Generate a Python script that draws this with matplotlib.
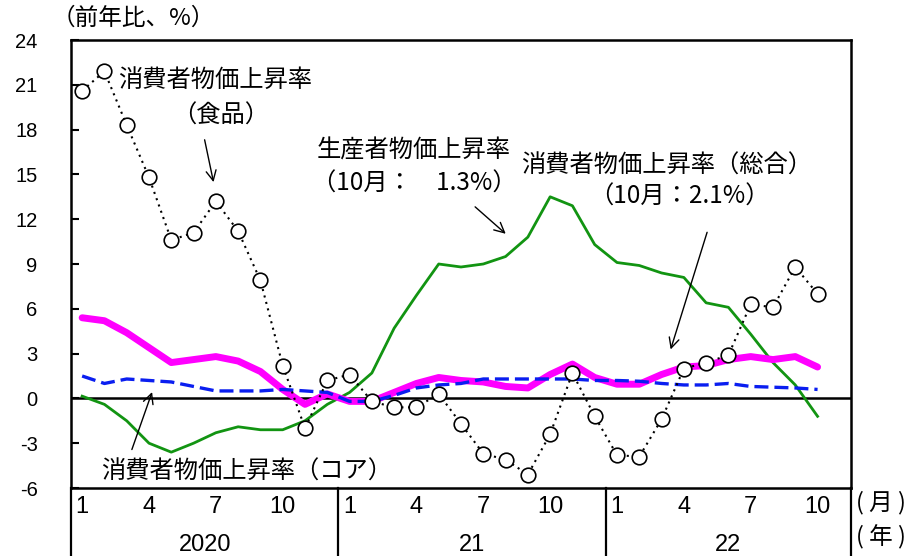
import matplotlib
matplotlib.use("Agg")
import matplotlib.pyplot as plt
import numpy as np

plt.rcParams['font.family'] = ['Noto Sans CJK JP', 'DejaVu Sans']

JP = ['Noto Sans CJK JP', 'DejaVu Sans']
NUM = ['Liberation Sans', 'DejaVu Sans']
NARROW = ['Liberation Sans Narrow', 'Liberation Sans', 'DejaVu Sans']

# monthly, 2020/1 .. 2022/10 (前年比, %)
cpi_food = [20.6, 21.9, 18.3, 14.8, 10.6, 11.1, 13.2, 11.2, 7.9, 2.2, -2.0, 1.2,
            1.6, -0.2, -0.6, -0.6, 0.3, -1.7, -3.7, -4.1, -5.1, -2.4, 1.7, -1.2,
            -3.8, -3.9, -1.4, 2.0, 2.4, 2.9, 6.3, 6.1, 8.8, 7.0]
ppi = [0.15, -0.4, -1.5, -3.0, -3.6, -3.0, -2.3, -1.9, -2.1, -2.1, -1.5, -0.4,
       0.4, 1.7, 4.7, 6.9, 9.0, 8.8, 9.0, 9.5, 10.8, 13.5, 12.9, 10.3,
       9.1, 8.9, 8.4, 8.1, 6.4, 6.1, 4.3, 2.4, 0.9, -1.2]
cpi_all = [5.4, 5.2, 4.4, 3.4, 2.4, 2.6, 2.8, 2.5, 1.8, 0.6, -0.4, 0.3,
           -0.2, -0.2, 0.4, 1.0, 1.4, 1.2, 1.1, 0.8, 0.7, 1.6, 2.3, 1.4,
           0.95, 0.95, 1.6, 2.1, 2.2, 2.6, 2.8, 2.6, 2.8, 2.1]
cpi_core = [1.5, 1.0, 1.3, 1.2, 1.1, 0.8, 0.5, 0.5, 0.5, 0.6, 0.5, 0.4,
            -0.2, -0.2, 0.2, 0.7, 0.9, 1.0, 1.3, 1.3, 1.3, 1.3, 1.3, 1.2,
            1.2, 1.15, 1.0, 0.9, 0.9, 1.0, 0.8, 0.75, 0.7, 0.6]

month_ticks = ['1', '4', '7', '10']
years = ['2020', '21', '22']
yticks = [-6, -3, 0, 3, 6, 9, 12, 15, 18, 21, 24]

x = np.arange(len(cpi_food))

fig = plt.figure(figsize=(9.09, 5.56), dpi=100)
ax = fig.add_axes([71 / 909, 68 / 556, 780 / 909, 448 / 556])

ax.axhline(0, color='black', lw=1.8, zorder=2)
ax.plot(x, ppi, color='#129412', lw=2.0, zorder=3)
ax.plot(x, cpi_all, color='#ff00ff', lw=5.0, solid_capstyle='round', zorder=4)
ax.plot(x, cpi_core, color='#0a1ef0', lw=2.4, dashes=(4.2, 1.8), zorder=5)
ax.plot(x, cpi_food, color='black', lw=1.5, ls=(0, (1, 2.2)), marker='o',
        markersize=10.5, markerfacecolor='white', markeredgecolor='black',
        markeredgewidth=1.2, zorder=6)

ax.set_xlim(-0.5, 34.5)
ax.set_ylim(-6, 24)
ax.set_yticks(yticks)
ax.set_yticklabels([str(t) for t in yticks], fontfamily=NUM, fontsize=14.5)
ax.tick_params(axis='y', direction='in', length=6, width=1.5, pad=24)
ax.set_xticks([])
for s in ax.spines.values():
    s.set_linewidth(1.8)

# bottom table: separators, month and year labels
tr = ax.get_xaxis_transform()
for xs in [-0.5, 11.5, 23.5, 34.5]:
    ax.plot([xs, xs], [0, -0.16], transform=tr, color='black', lw=1.6,
            clip_on=False)
for yi, year in enumerate(years):
    for mi, m in enumerate(month_ticks):
        ax.text(yi * 12 + mi * 3, -0.043, m, transform=tr, ha='center',
                va='center', fontsize=17, fontfamily=NARROW)
    x0 = yi * 12 - 0.5
    x1 = min(x0 + 12, 34.5)
    ax.text((x0 + x1) / 2, -0.128, year, transform=tr, ha='center',
            va='center', fontsize=17, fontfamily=NARROW)

fig.text(906 / 909, 1 - 503 / 556, '( 月 )', ha='right', va='center',
         fontsize=17, fontfamily=JP)
fig.text(906 / 909, 1 - 537 / 556, '( 年 )', ha='right', va='center',
         fontsize=17, fontfamily=JP)
fig.text(52 / 909, 1 - 18 / 556, '（前年比、%）', ha='left', va='center',
         fontsize=17, fontfamily=JP)

# annotations
akw = dict(arrowstyle='->', color='black', lw=1.0, mutation_scale=18)
ax.text(1.6, 21.3, '消費者物価上昇率', ha='left', va='center', fontsize=17.5)
ax.text(6.2, 18.9, '（食品）', ha='center', va='center', fontsize=17.5)
ax.annotate('', xy=(5.92, 14.3), xytext=(5.47, 17.5), arrowprops=akw)

ax.text(10.5, 16.6, '生産者物価上昇率', ha='left', va='center', fontsize=17.5)
ax.text(10.3, 14.4, '（10月：　1.3%）', ha='left', va='center', fontsize=17.5)
ax.annotate('', xy=(19.1, 10.9), xytext=(17.54, 12.95), arrowprops=akw)

ax.text(19.7, 15.6, '消費者物価上昇率（総合）', ha='left', va='center',
        fontsize=17.5)
ax.text(26.8, 13.5, '（10月：2.1%）', ha='center', va='center', fontsize=17.5)
ax.annotate('', xy=(26.37, 3.1), xytext=(28.08, 11.3), arrowprops=akw)

ax.text(0.85, -4.9, '消費者物価上昇率（コア）', ha='left', va='center',
        fontsize=17.5)
ax.annotate('', xy=(3.18, 0.6), xytext=(2.19, -3.6), arrowprops=akw)

fig.savefig('out.png', dpi=100)
